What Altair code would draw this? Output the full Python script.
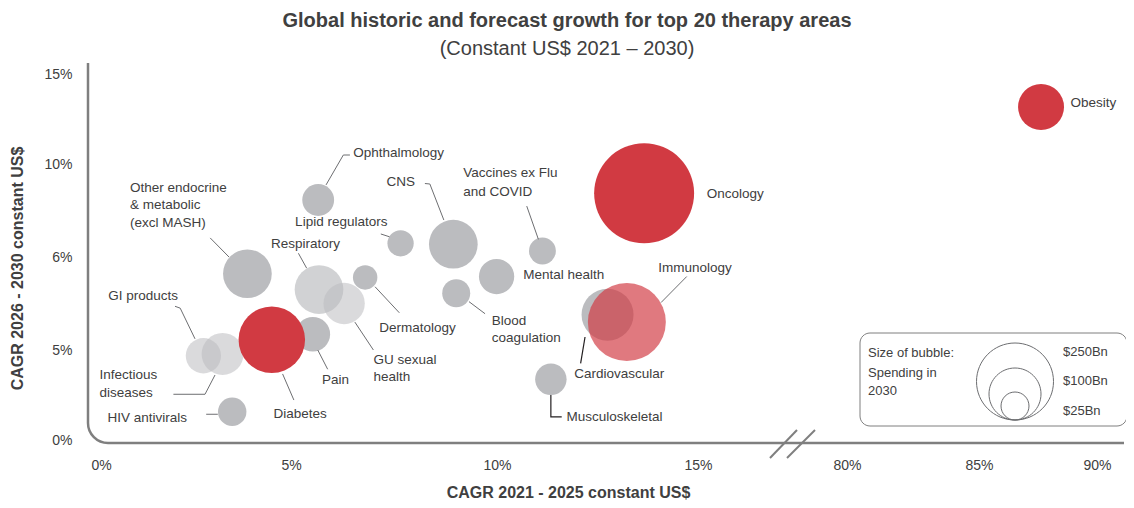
import altair as alt
import pandas as pd

# ---------------- data ----------------
names = ["Other endocrine & metabolic (excl MASH)", "Ophthalmology", "Lipid regulators", "Dermatology",
         "Pain", "HIV antivirals", "CNS", "Vaccines ex Flu and COVID", "Mental health", "Blood coagulation",
         "Musculoskeletal", "Cardiovascular", "Respiratory", "GU sexual health", "GI products",
         "Infectious diseases", "Diabetes", "Oncology", "Immunology", "Obesity"]
cagr_2021_2025 = [3.91, 5.66, 7.66, 6.80, 5.53, 3.53, 8.94, 11.13, 9.99, 9.01,
                  11.34, 12.75, 5.68, 6.29, 2.81, 3.29, 4.52, 13.66, 13.23, 87.35]
cagr_2026_2030 = [5.82, 8.45, 6.59, 5.78, 5.17, 1.57, 6.55, 6.26, 5.79, 5.61,
                  3.37, 5.38, 5.65, 5.50, 4.68, 4.78, 5.11, 8.74, 5.30, 13.17]
spend_2030_bn = [87, 34, 22, 19, 41, 26, 87, 23, 43, 25,
                 33, 100, 87, 61, 43, 63, 180, 439, 257, 77]
highlight = ["grey"] * 16 + ["red"] * 4

# translucency of some bubbles (style)
translucent = {"Respiratory": 0.68, "GU sexual health": 0.55, "GI products": 0.55,
               "Infectious diseases": 0.55, "Immunology": 0.68}

x_ticks = [0, 5, 10, 15, 80, 85, 90]
y_ticks = [0, 5, 6, 10, 15]

legend_sizes = [250, 100, 25]
legend_labels = ["$250Bn", "$100Bn", "$25Bn"]

# annotation labels: text, x (CAGR 21-25), y (CAGR 26-30)
label_text = ["Ophthalmology", "Lipid regulators", "Other endocrine", "& metabolic", "(excl MASH)",
              "Respiratory", "CNS", "Vaccines ex Flu", "and COVID", "Mental health", "Dermatology",
              "GU sexual", "health", "Pain", "Blood", "coagulation", "GI products", "Infectious",
              "diseases", "HIV antivirals", "Diabetes", "Oncology", "Immunology", "Cardiovascular",
              "Musculoskeletal", "Obesity"]
label_x = [6.51, 5.10, 0.975, 0.975, 0.975, 4.50, 7.32, 9.18, 9.18, 10.65, 7.14,
           7.00, 7.00, 5.75, 9.87, 9.87, 0.43, 0.21, 0.21, 0.41, 4.56, 18.80, 14.01, 11.92,
           11.73, 88.47]
label_y = [10.63, 7.49, 8.95, 8.24, 7.45, 6.55, 9.24, 9.60, 8.81, 5.81, 5.24,
           4.44, 3.52, 3.31, 5.31, 5.13, 5.58, 3.61, 2.59, 1.21, 1.44, 8.70, 5.88, 3.65,
           1.29, 13.37]

# leader lines (x list, y list)
leaders_light = [
    ([5.85, 6.27, 6.43], [9.10, 10.5, 10.5]),
    ([7.18, 7.39], [6.99, 6.87]),
    ([2.98, 3.45], [6.82, 6.00]),
    ([5.18, 5.38], [6.16, 5.88]),
    ([8.25, 8.37, 8.71], [9.16, 9.14, 7.59]),
    ([10.74, 11.03], [8.19, 6.76]),
    ([7.04, 7.63], [5.68, 5.40]),
    ([6.55, 7.00], [5.30, 5.00]),
    ([5.65, 5.89], [5.00, 3.93]),
    ([9.32, 9.71], [5.52, 5.39]),
    ([2.10, 2.23, 2.60], [5.47, 5.45, 5.12]),
    ([2.06, 2.85, 3.10], [2.54, 2.54, 3.61]),
    ([2.88, 3.17], [1.43, 1.43]),
    ([4.79, 5.07], [3.67, 2.22]),
    ([14.72, 14.08], [5.79, 5.51]),
]
leaders_dark = [
    ([12.19, 12.08], [5.14, 4.26]),
    ([11.34, 11.34, 11.61], [2.50, 1.29, 1.29]),
]

# ---------------- tables ----------------
bubbles = pd.DataFrame({
    "name": names,
    "x": cagr_2021_2025,
    "y": cagr_2026_2030,
    "spend": spend_2030_bn,
    "kind": highlight,
})
bubbles["op"] = [translucent.get(n, 1.0) for n in names]
bubbles["z"] = list(range(len(names)))

labels = pd.DataFrame({"text": label_text, "x": label_x, "y": label_y})


def leader_df(leaders):
    rows = []
    for i, (xs, ys) in enumerate(leaders):
        for j, (a, b) in enumerate(zip(xs, ys)):
            rows.append({"id": i, "seq": j, "x": a, "y": b})
    return pd.DataFrame(rows)


one = pd.DataFrame({"a": [0]})
legend_df = pd.DataFrame({"spend": legend_sizes})

FONT = "Liberation Sans"
TXT = "#404040"
AXIS_GREY = "#7f7f7f"

x_scale = alt.Scale(domain=[0, 5, 10, 15, 80, 90], range=[11, 211, 417, 618, 767, 1031],
                    zero=False, nice=False)
y_scale = alt.Scale(domain=[0, 5, 6, 10, 15], range=[377, 287, 194, 101, 11],
                    zero=False, nice=False)
size_scale = alt.Scale(domain=[0, 25, 100, 250, 500], range=[0, 784, 2704, 5929, 11304], zero=True)

x_axis = alt.Axis(values=x_ticks, labelExpr="datum.value + '%'", title="CAGR 2021 - 2025 constant US$",
                  titleX=488, titleY=42, titleAlign="center", titleBaseline="middle",
                  labelBaseline="middle", labelPadding=15)
y_axis = alt.Axis(values=y_ticks, labelExpr="datum.value + '%'", title="CAGR 2026 - 2030 constant US$",
                  titleX=-63, titleY=205, titleAngle=270, titleAlign="center", titleBaseline="middle",
                  labelPadding=8)

# frame (axis lines with rounded corner)
frame = alt.Chart(one).mark_rect(
    clip=True, fillOpacity=0, stroke=AXIS_GREY, strokeWidth=2.5, cornerRadius=20
).encode(x=alt.value(8), x2=alt.value(1400), y=alt.value(-300), y2=alt.value(380))

bub = alt.Chart(bubbles).mark_circle(strokeWidth=0).encode(
    x=alt.X("x:Q", scale=x_scale, axis=x_axis),
    y=alt.Y("y:Q", scale=y_scale, axis=y_axis),
    size=alt.Size("spend:Q", scale=size_scale, legend=None),
    color=alt.Color("kind:N", scale=alt.Scale(domain=["grey", "red"], range=["#bbbcbf", "#d13a42"]),
                    legend=None),
    opacity=alt.Opacity("op:Q", scale=None),
    order=alt.Order("z:Q"),
)

lead_l = alt.Chart(leader_df(leaders_light)).mark_line(color="#6d6e71", strokeWidth=1).encode(
    x="x:Q", y="y:Q", detail="id:N", order="seq:Q")
lead_d = alt.Chart(leader_df(leaders_dark)).mark_line(color="#231f20", strokeWidth=1.2).encode(
    x="x:Q", y="y:Q", detail="id:N", order="seq:Q")

lab = alt.Chart(labels).mark_text(align="left", baseline="middle", font=FONT, fontSize=13.5,
                                  color=TXT).encode(x="x:Q", y="y:Q", text="text:N")

# axis break marks
brk1 = alt.Chart(one).mark_rule(color=AXIS_GREY, strokeWidth=2).encode(
    x=alt.value(690), y=alt.value(395), x2=alt.value(717), y2=alt.value(367))
brk2 = alt.Chart(one).mark_rule(color=AXIS_GREY, strokeWidth=2).encode(
    x=alt.value(707), y=alt.value(395), x2=alt.value(735), y2=alt.value(367))

# size legend
leg_box = alt.Chart(one).mark_rect(fill="white", stroke=AXIS_GREY, strokeWidth=1, cornerRadius=10).encode(
    x=alt.value(780), x2=alt.value(1047), y=alt.value(270), y2=alt.value(363))
bottom_circle = "M -1 -1 A 1 1 0 1 1 1 -1 A 1 1 0 1 1 -1 -1 Z"
leg_circ = alt.Chart(legend_df).mark_point(shape=bottom_circle, filled=False, stroke="#6d6e71",
                                           strokeWidth=1, opacity=1).encode(
    x=alt.value(935), y=alt.value(357), size=alt.Size("spend:Q", scale=size_scale, legend=None))

leg_texts = []
for t, yy in zip(["Size of bubble:", "Spending in", "2030"], [290, 310, 328]):
    leg_texts.append(alt.Chart(one).mark_text(align="left", baseline="middle", font=FONT, fontSize=13,
                                              color=TXT, text=t).encode(x=alt.value(788), y=alt.value(yy)))
for t, yy in zip(legend_labels, [289, 318, 348]):
    leg_texts.append(alt.Chart(one).mark_text(align="left", baseline="middle", font=FONT, fontSize=13,
                                              color=TXT, text=t).encode(x=alt.value(983), y=alt.value(yy)))

chart = alt.layer(frame, bub, lead_l, lead_d, lab, brk1, brk2, leg_box, leg_circ, *leg_texts).properties(
    width=1044, height=387,
    autosize="none",
    padding={"left": 72, "top": 55, "right": 2, "bottom": 50},
    title=alt.TitleParams(
        text="Global historic and forecast growth for top 20 therapy areas",
        subtitle="(Constant US$ 2021 – 2030)",
        font=FONT, fontSize=20, fontWeight="bold", color=TXT,
        subtitleFont=FONT, subtitleFontSize=20, subtitleColor=TXT,
        anchor="middle", dx=-35, offset=4, subtitlePadding=8,
    ),
).configure_view(stroke=None).configure_axis(
    grid=False, domain=False, ticks=False,
    labelFont=FONT, labelFontSize=14, labelColor=TXT,
    titleFont=FONT, titleFontSize=16, titleFontWeight="bold", titleColor=TXT,
)

chart.save("out.html", embed_options={"renderer": "svg", "actions": False})
